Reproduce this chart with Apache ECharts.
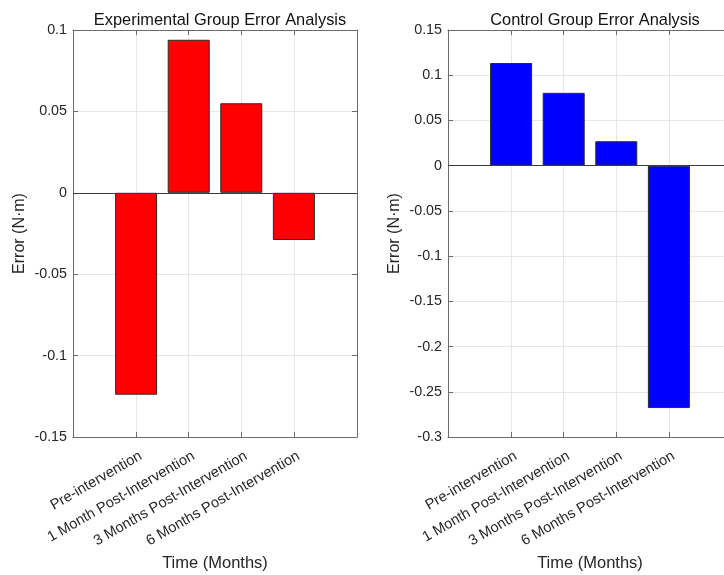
<!DOCTYPE html>
<html>
<head>
<meta charset="utf-8">
<script src="https://cdn.jsdelivr.net/npm/echarts@6/dist/echarts.min.js"></script>
<style>html,body{margin:0;padding:0;background:#fff}#c{width:724px;height:575px}</style>
</head>
<body>
<div id="c"></div>
<script>
const categories = ['Pre-intervention', '1 Month Post-Intervention', '3 Months Post-Intervention', '6 Months Post-Intervention'];
const categoryPositions = [1, 2, 3, 4];
const experimentalErrors = [-0.124, 0.094, 0.055, -0.029];
const controlErrors = [0.1135, 0.0805, 0.027, -0.268];
const titles = ['Experimental Group Error Analysis', 'Control Group Error Analysis'];
const yRanges = [[-0.15, 0.1], [-0.3, 0.15]];
const yInterval = 0.05;

const FONT = '"Liberation Sans", Arial, Helvetica, sans-serif';
const TXT = '#262626';
const AX = '#6b6b6b';
const GRIDC = '#e6e6e6';
const grids = [
  {left: 73, top: 30, width: 284, height: 407},
  {left: 448, top: 30, width: 284, height: 407}
];
// rotated labels are anchored slightly right of each tick (as in the reference)
const labelShift = 0.09;
const labelPositions = categoryPositions.map(p => p + labelShift);

function fmtY(v) {
  const r = Math.round(v * 1000) / 1000;
  return String(r);
}

const chart = echarts.init(document.getElementById('c'), null, {renderer: 'canvas'});
const xAxes = [], yAxes = [], series = [], titleOpts = [];
[experimentalErrors, controlErrors].forEach((vals, g) => {
  titleOpts.push({
    text: titles[g], left: grids[g].left + grids[g].width / 2, top: 7, textAlign: 'center',
    textStyle: {fontFamily: FONT, fontSize: 16.4, fontWeight: 'normal', color: '#111'}
  });
  xAxes.push({
    type: 'value', gridIndex: g, min: -0.2, max: 5.2, position: 'bottom',
    name: 'Time (Months)', nameLocation: 'middle', nameGap: 117,
    nameTextStyle: {fontFamily: FONT, fontSize: 16.5, color: TXT},
    axisLine: {show: true, onZero: false, lineStyle: {color: AX}},
    axisTick: {show: true, inside: true, length: 5, customValues: categoryPositions, lineStyle: {color: AX}},
    axisLabel: {show: true, customValues: labelPositions, rotate: 30, margin: 18,
      fontFamily: FONT, fontSize: 14.6, color: TXT,
      formatter: v => categories[Math.round(v) - 1] || ''},
    splitLine: {show: true, lineStyle: {color: GRIDC, width: 1}}
  });
  xAxes.push({
    type: 'value', gridIndex: g, min: -0.2, max: 5.2, position: 'top',
    axisLine: {show: true, onZero: false, lineStyle: {color: AX}},
    axisTick: {show: true, inside: true, length: 5, customValues: categoryPositions, lineStyle: {color: AX}},
    axisLabel: {show: false},
    splitLine: {show: false}
  });
  yAxes.push({
    type: 'value', gridIndex: g, min: yRanges[g][0], max: yRanges[g][1], interval: yInterval, position: 'left',
    name: 'Error (N·m)', nameLocation: 'middle', nameGap: 45, nameRotate: 90,
    nameTextStyle: {fontFamily: FONT, fontSize: 16, color: TXT},
    axisLine: {show: true, onZero: false, lineStyle: {color: AX}},
    axisTick: {show: true, inside: true, length: 5, lineStyle: {color: AX}},
    axisLabel: {fontFamily: FONT, fontSize: 14.3, color: TXT, margin: 6, formatter: fmtY},
    splitLine: {show: true, lineStyle: {color: GRIDC, width: 1}}
  });
  yAxes.push({
    type: 'value', gridIndex: g, min: yRanges[g][0], max: yRanges[g][1], interval: yInterval, position: 'right',
    axisLine: {show: true, onZero: false, lineStyle: {color: AX}},
    axisTick: {show: true, inside: true, length: 5, lineStyle: {color: AX}},
    axisLabel: {show: false},
    splitLine: {show: false}
  });
  series.push({
    type: 'bar', xAxisIndex: g * 2, yAxisIndex: g * 2, barWidth: 42,
    data: categoryPositions.map((p, i) => [p, vals[i]]),
    itemStyle: {color: g === 0 ? '#ff0000' : '#0000ff', borderColor: '#2a2a2a', borderWidth: 1},
    emphasis: {disabled: true},
    markLine: {
      silent: true, symbol: 'none', animation: false,
      label: {show: false},
      lineStyle: {color: '#3a3a3a', width: 1, type: 'solid'},
      data: [{yAxis: 0}]
    }
  });
});

chart.setOption({
  animation: false,
  backgroundColor: '#ffffff',
  title: titleOpts,
  grid: grids.map(g => Object.assign({containLabel: false, outerBoundsMode: 'none'}, g)),
  xAxis: xAxes,
  yAxis: yAxes,
  series: series
});
</script>
</body>
</html>
